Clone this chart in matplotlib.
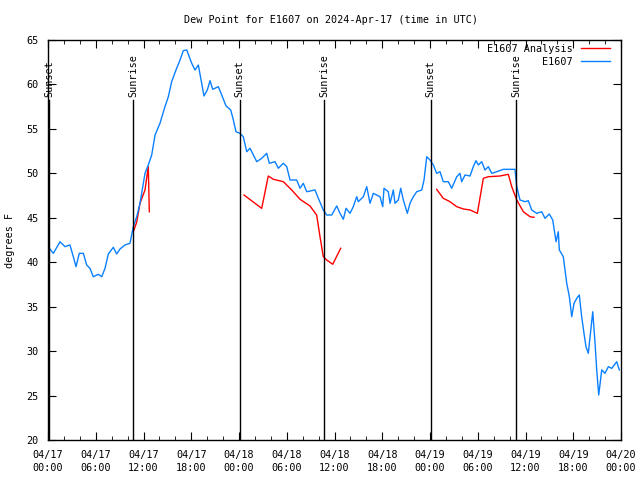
import matplotlib
matplotlib.use("Agg")
import matplotlib.pyplot as plt
from matplotlib.ticker import MultipleLocator, FixedLocator

plt.rcParams['font.family'] = ['DejaVu Sans Mono']
FS = 7.3

# hours since 2024-04-17 00:00 UTC
obs_hours = [0.0, 0.67, 1.51, 2.14, 2.76, 3.18, 3.52, 3.93, 4.44, 4.86, 5.28, 5.69, 6.32, 6.75,
             7.16, 7.58, 8.21, 8.63, 9.05, 9.68, 10.30, 10.72, 11.15, 11.56, 12.19, 12.60, 13.03,
             13.45, 14.07, 14.70, 15.12, 15.54, 16.08, 16.59, 17.0, 17.43, 18.06, 18.47, 18.89,
             19.31, 19.60, 20.02, 20.36, 20.70, 21.40, 21.83, 22.37, 22.96, 23.29, 23.62, 24.13,
             24.54, 24.97, 25.38, 25.80, 26.23, 26.85, 27.48, 27.81, 28.53, 28.94, 29.57, 30.0,
             30.41, 31.25, 31.67, 32.08, 32.51, 33.55, 33.97, 34.59, 35.02, 35.65, 36.28, 36.69,
             37.11, 37.45, 37.95, 38.36, 38.79, 38.99, 39.62, 40.05, 40.46, 40.88, 41.30, 41.72,
             42.06, 42.22, 42.76, 42.98, 43.39, 43.60, 44.02, 44.32, 44.65, 45.15, 45.49, 45.90,
             46.33, 46.96, 47.25, 47.59, 48.0, 48.42, 48.84, 49.26, 49.67, 50.30, 50.73, 51.36,
             51.77, 51.98, 52.40, 53.03, 53.44, 53.78, 54.07, 54.50, 54.91, 55.33, 55.76, 56.38,
             57.21, 58.68, 58.90, 59.31, 59.94, 60.35, 60.78, 61.41, 62.04, 62.45, 62.99, 63.42,
             63.84, 64.12, 64.25, 64.75, 65.18, 65.51, 65.81, 66.10, 66.44, 66.76, 67.06, 67.35,
             67.60, 67.89, 68.20, 68.45, 68.74, 68.95, 69.20, 69.58, 69.99, 70.41, 70.84, 71.46,
             71.79]
obs_dewpt = [41.75, 41.0, 42.3, 41.75, 41.94, 40.62, 39.5, 41.0, 41.0, 39.69, 39.3, 38.37, 38.64,
             38.37, 39.3, 40.93, 41.68, 40.93, 41.49, 41.94, 42.13, 44.0, 45.12, 46.63, 50.0, 50.94,
             52.06, 54.31, 55.63, 57.5, 58.62, 60.31, 61.62, 62.75, 63.8, 63.88, 62.38, 61.62, 62.19,
             60.13, 58.7, 59.38, 60.42, 59.45, 59.75, 58.81, 57.58, 57.13, 56.0, 54.68, 54.5, 54.12,
             52.43, 52.82, 52.06, 51.31, 51.69, 52.25, 51.13, 51.31, 50.57, 51.13, 50.75, 49.25,
             49.25, 48.32, 48.88, 47.93, 48.13, 47.19, 45.88, 45.31, 45.31, 46.33, 45.5, 44.83,
             46.07, 45.5, 46.25, 47.37, 46.81, 47.37, 48.5, 46.63, 47.75, 47.56, 47.37, 46.25, 48.32,
             47.93, 46.63, 48.13, 46.63, 47.0, 48.32, 47.0, 45.5, 46.63, 47.37, 47.93, 48.13, 49.25,
             51.87, 51.5, 50.94, 50.0, 50.18, 49.06, 49.06, 48.32, 49.62, 50.0, 49.06, 49.81, 49.7,
             50.75, 51.42, 50.94, 51.31, 50.37, 50.75, 50.0, 50.18, 50.45, 50.45, 48.5, 47.0, 46.81,
             46.92, 45.88, 45.5, 45.68, 44.94, 45.42, 44.75, 42.31, 43.43, 41.38, 40.62, 37.63,
             36.12, 33.87, 35.38, 35.94, 36.31, 33.87, 32.0, 30.50, 29.75, 32.38, 34.43, 30.88,
             27.88, 25.06, 27.88, 27.5, 28.25, 28.06, 28.81, 27.88]

ana1_hours = [10.72, 11.15, 11.56, 12.19, 12.60, 12.73]
ana1_dewpt = [43.43, 44.52, 46.63, 48.13, 50.75, 45.68]
ana2_hours = [24.63, 26.85, 27.68, 28.31, 29.57, 30.62, 31.67, 32.92, 33.76, 34.18, 34.59, 35.02,
              35.78, 36.78]
ana2_dewpt = [47.56, 46.06, 49.7, 49.33, 49.06, 48.13, 47.08, 46.33, 45.31, 42.87, 40.62, 40.25,
              39.77, 41.57]
ana3_hours = [48.84, 49.67, 50.51, 51.36, 52.19, 53.03, 53.95, 54.70, 55.33, 56.80, 57.84, 58.27,
              58.90, 59.73, 60.57, 61.07]
ana3_dewpt = [48.2, 47.19, 46.81, 46.25, 45.99, 45.88, 45.5, 49.44, 49.62, 49.7, 49.89, 48.5,
              47.0, 45.68, 45.12, 45.05]

sun_hours = [0.13, 10.68, 24.1, 34.67, 48.1, 58.8]
sun_labels = ["Sunset", "Sunrise", "Sunset", "Sunrise", "Sunset", "Sunrise"]

xtick_hours = [0, 6, 12, 18, 24, 30, 36, 42, 48, 54, 60, 66, 72]
xtick_labels = ["04/17\n00:00", "04/17\n06:00", "04/17\n12:00", "04/17\n18:00",
                "04/18\n00:00", "04/18\n06:00", "04/18\n12:00", "04/18\n18:00",
                "04/19\n00:00", "04/19\n06:00", "04/19\n12:00", "04/19\n18:00",
                "04/20\n00:00"]

RED = "#ff0000"
BLUE = "#0a80ff"

fig = plt.figure(figsize=(6.4, 4.8), dpi=100)
ax = fig.add_axes([48/640, 40/480, (621-48)/640, 400/480])

ax.plot(ana1_hours, ana1_dewpt, color=RED, lw=1.0, label="E1607 Analysis")
ax.plot(ana2_hours, ana2_dewpt, color=RED, lw=1.0)
ax.plot(ana3_hours, ana3_dewpt, color=RED, lw=1.0)
ax.plot(obs_hours, obs_dewpt, color=BLUE, lw=1.0, label="E1607")

for h, lab in zip(sun_hours, sun_labels):
    ax.axvline(h, ymin=0, ymax=0.85, color="black", lw=1.0)
    ax.text(h, 58.55, lab, rotation=90, ha="center", va="bottom", fontsize=FS)

ax.set_xlim(0, 72)
ax.set_ylim(20, 65)
ax.xaxis.set_major_locator(FixedLocator(xtick_hours))
ax.set_xticklabels(xtick_labels, linespacing=1.35)
ax.xaxis.set_minor_locator(MultipleLocator(2))
ax.yaxis.set_major_locator(MultipleLocator(5))
ax.tick_params(which="both", direction="in", top=True, right=True, labelsize=FS, pad=7)
ax.tick_params(which="major", length=6)
ax.tick_params(which="minor", length=3)
for s in ax.spines.values():
    s.set_linewidth(1.0)

fig.text(331/640, 1 - 20/480, "Dew Point for E1607 on 2024-Apr-17 (time in UTC)",
         fontsize=FS, ha="center", va="center")
fig.text(10/640, 0.5, "degrees F", fontsize=FS, rotation=90, ha="center", va="center")

ax.legend(loc="upper right", frameon=False, markerfirst=False, fontsize=FS,
          bbox_to_anchor=(1 - 11/573, 1 - 4/400), borderaxespad=0, borderpad=0,
          handlelength=2.9, labelspacing=0.25, handletextpad=0.8)

fig.savefig("out.png", dpi=100)
